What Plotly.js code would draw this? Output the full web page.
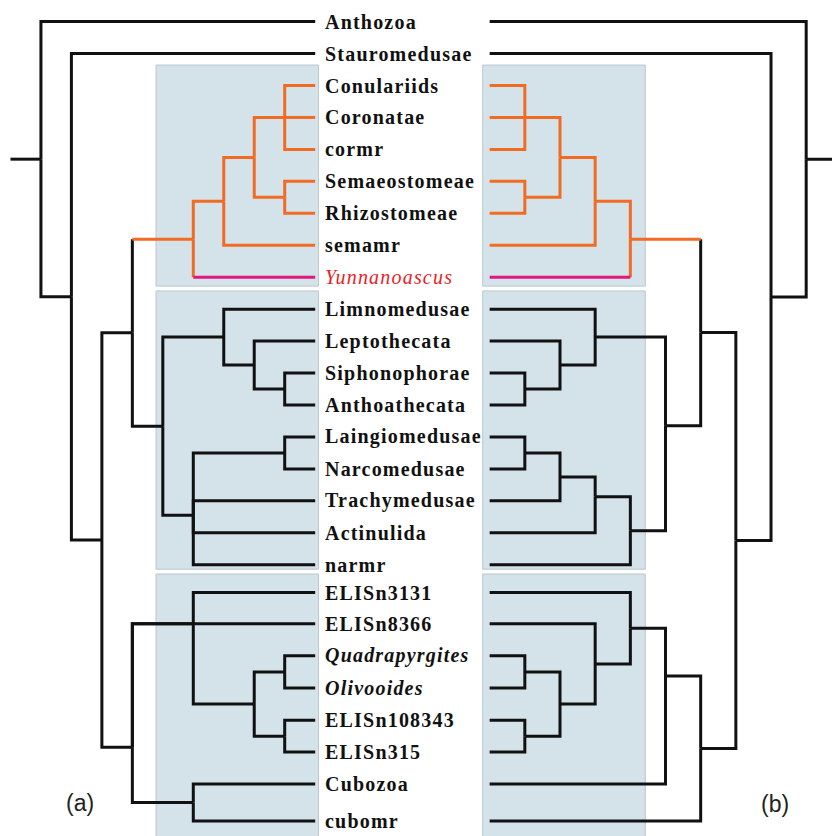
<!DOCTYPE html>
<html><head><meta charset="utf-8">
<script src="https://cdn.plot.ly/plotly-3.0.1.min.js"></script>
<style>html,body{margin:0;padding:0;background:#fff}</style>
</head><body><div id="chart" style="width:832px;height:836px"></div>
<script>
// ---- data ----
const taxa = ['Anthozoa','Stauromedusae','Conulariids','Coronatae','cormr','Semaeostomeae','Rhizostomeae','semamr','Yunnanoascus',
  'Limnomedusae','Leptothecata','Siphonophorae','Anthoathecata','Laingiomedusae','Narcomedusae','Trachymedusae','Actinulida','narmr',
  'ELISn3131','ELISn8366','Quadrapyrgites','Olivooides','ELISn108343','ELISn315','Cubozoa','cubomr'];
const leafRows = [0,1,2,3,4,5,6,7,8,9,10,11,12,13,14,15,16,17,17.87,18.85,19.85,20.86,21.87,22.86,23.86,25.02];
const italicTaxa = ['Yunnanoascus','Quadrapyrgites','Olivooides'];
const highlightTaxon = 'Yunnanoascus';
const panelLabels = ['(a)','(b)'];
// tree (a): [node, depth level (root = 0), children, optional drawn row]
const treeA = [
  ['a0',0,['Anthozoa','a1']],
  ['a1',1,['Stauromedusae','a2']],
  ['a2',2,['a3','a15']],
  ['a3',3,['a4','a9']],
  ['a4',5,['a5','Yunnanoascus']],
  ['a5',6,['a6','semamr']],
  ['a6',7,['a7','a8']],
  ['a7',8,['Conulariids','Coronatae','cormr']],
  ['a8',8,['Semaeostomeae','Rhizostomeae']],
  ['a9',4,['a10','a13']],
  ['a10',6,['Limnomedusae','a11']],
  ['a11',7,['Leptothecata','a12']],
  ['a12',8,['Siphonophorae','Anthoathecata']],
  ['a13',5,['a14','Trachymedusae','Actinulida','narmr'],15.45],
  ['a14',8,['Laingiomedusae','Narcomedusae']],
  ['a15',3,['a16','ELISn8366','a20'],22.71],
  ['a16',5,['ELISn3131','a17'],18.85],
  ['a17',7,['a18','a19']],
  ['a18',8,['Quadrapyrgites','Olivooides']],
  ['a19',8,['ELISn108343','ELISn315']],
  ['a20',5,['Cubozoa','cubomr']]
];
// tree (b): [node, height level (leaves = 0), children, optional drawn row]
const treeB = [
  ['b0',9,['Anthozoa','b1']],
  ['b1',8,['Stauromedusae','b2']],
  ['b2',7,['b3','b17']],
  ['b3',6,['b4','b9']],
  ['b4',4,['b5','Yunnanoascus']],
  ['b5',3,['b6','semamr']],
  ['b6',2,['b7','b8']],
  ['b7',1,['Conulariids','Coronatae','cormr']],
  ['b8',1,['Semaeostomeae','Rhizostomeae']],
  ['b9',5,['b10','b13'],12.65],
  ['b10',3,['Limnomedusae','b11']],
  ['b11',2,['Leptothecata','b12']],
  ['b12',1,['Siphonophorae','Anthoathecata']],
  ['b13',4,['b14','narmr']],
  ['b14',3,['b15','Actinulida'],14.87],
  ['b15',2,['b16','Trachymedusae']],
  ['b16',1,['Laingiomedusae','Narcomedusae']],
  ['b17',6,['b18','cubomr']],
  ['b18',5,['b19','Cubozoa'],20.48],
  ['b19',4,['ELISn3131','b20']],
  ['b20',3,['ELISn8366','b21']],
  ['b21',2,['b22','b23']],
  ['b22',1,['Quadrapyrgites','Olivooides']],
  ['b23',1,['ELISn108343','ELISn315']]
];
const scyphoClade = {a:'a4', b:'b4'};

// ---- styling ----
const BLACK = '#111111', ORANGE = '#F26B22', MAGENTA = '#E0177C', RED = '#EC1C24';

function buildTree(tree, leafLevel, stubLevel, cladeRoot, axis) {
  const nodes = {};
  tree.forEach(n => nodes[n[0]] = {level:n[1], kids:n[2], fixed:n[3]});
  const rowOf = {};
  taxa.forEach((t,i)=> rowOf[t] = leafRows[i]);
  const yOf = id => {
    if (!(id in nodes)) return rowOf[id];
    const n = nodes[id];
    if (n.y !== undefined) return n.y;
    const ys = n.kids.map(yOf);
    n.y = (n.fixed !== undefined) ? n.fixed : (Math.min(...ys)+Math.max(...ys))/2;
    return n.y;
  };
  const color = {};
  const paint = (id, c) => {
    if (id === cladeRoot) c = ORANGE;
    if (id === highlightTaxon) c = MAGENTA;
    color[id] = c;
    if (id in nodes) nodes[id].kids.forEach(k => paint(k, c));
  };
  const root = tree[0][0];
  paint(root, BLACK);
  const segs = {};
  const add = (c, pts) => { (segs[c] = segs[c] || {x:[],y:[]}); pts.forEach(p=>{segs[c].x.push(p[0]); segs[c].y.push(p[1]);}); segs[c].x.push(null); segs[c].y.push(null); };
  add(color[root], [[stubLevel, yOf(root)], [nodes[root].level, yOf(root)]]);
  tree.forEach(n => {
    const id = n[0], L = n[1], yn = yOf(id), cn = color[id];
    n[2].forEach(k => {
      const yk = yOf(k), Lk = (k in nodes) ? nodes[k].level : leafLevel, ck = color[k];
      if (ck === cn) add(cn, [[L,yn],[L,yk],[Lk,yk]]);
      else { add(cn, [[L,yn],[L,yk]]); add(ck, [[L,yk],[Lk,yk]]); }
    });
  });
  return Object.keys(segs).map(c => ({
    type:'scatter', mode:'lines', x:segs[c].x, y:segs[c].y, xaxis:axis, yaxis:'y',
    line:{color:c, width:3}, connectgaps:false, hoverinfo:'skip', showlegend:false
  }));
}

const traces = [
  ...buildTree(treeA, 9, -1, scyphoClade.a, 'x'),
  ...buildTree(treeB, 0, 10, scyphoClade.b, 'x2')
];

const annotations = taxa.map((t,i) => {
  const it = italicTaxa.includes(t);
  const hl = t === highlightTaxon;
  let txt = `<span style="letter-spacing:1.2px">${t}</span>`;
  if (it) txt = `<i>${txt}</i>`;
  if (!hl) txt = `<b>${txt}</b>`;
  return {xref:'paper', yref:'y', x:323/832, y:leafRows[i], xanchor:'left', yanchor:'middle',
    text:txt, showarrow:false, font:{family:'Liberation Serif, Times New Roman, serif', size:20, color: hl ? RED : '#111111'}};
});
annotations.push({xref:'paper', yref:'paper', x:80/832, y:1-803/836, text:panelLabels[0], showarrow:false,
  xanchor:'center', yanchor:'middle', font:{family:'Liberation Sans, Arial, sans-serif', size:23, color:'#222'}});
annotations.push({xref:'paper', yref:'paper', x:775/832, y:1-804/836, text:panelLabels[1], showarrow:false,
  xanchor:'center', yanchor:'middle', font:{family:'Liberation Sans, Arial, sans-serif', size:23, color:'#222'}});

const panelRows = [[1.36, 8.28], [8.43, 17.14], [17.29, 25.8]];
const panelX = [[156/832, 318.5/832], [482.7/832, 645.3/832]];
const shapes = [];
panelX.forEach(px => panelRows.forEach(pr => shapes.push({
  type:'rect', layer:'below', xref:'paper', yref:'y', x0:px[0], x1:px[1], y0:pr[0], y1:pr[1],
  fillcolor:'#D4E2EA', line:{color:'#BCC7CE', width:1}
})));

const layout = {
  width:832, height:836, margin:{l:0,r:0,t:0,b:0}, paper_bgcolor:'#fff', plot_bgcolor:'rgba(0,0,0,0)',
  showlegend:false,
  xaxis:{domain:[0,1], range:[(0-40.94)/30.47, (832-40.94)/30.47], visible:false, fixedrange:true},
  xaxis2:{overlaying:'x', range:[(0-489.66)/35.17, (832-489.66)/35.17], visible:false, fixedrange:true},
  yaxis:{range:[25.49, -0.676], visible:false, fixedrange:true},
  shapes, annotations
};
Plotly.newPlot('chart', traces, layout, {displayModeBar:false, staticPlot:true});
</script></body></html>
